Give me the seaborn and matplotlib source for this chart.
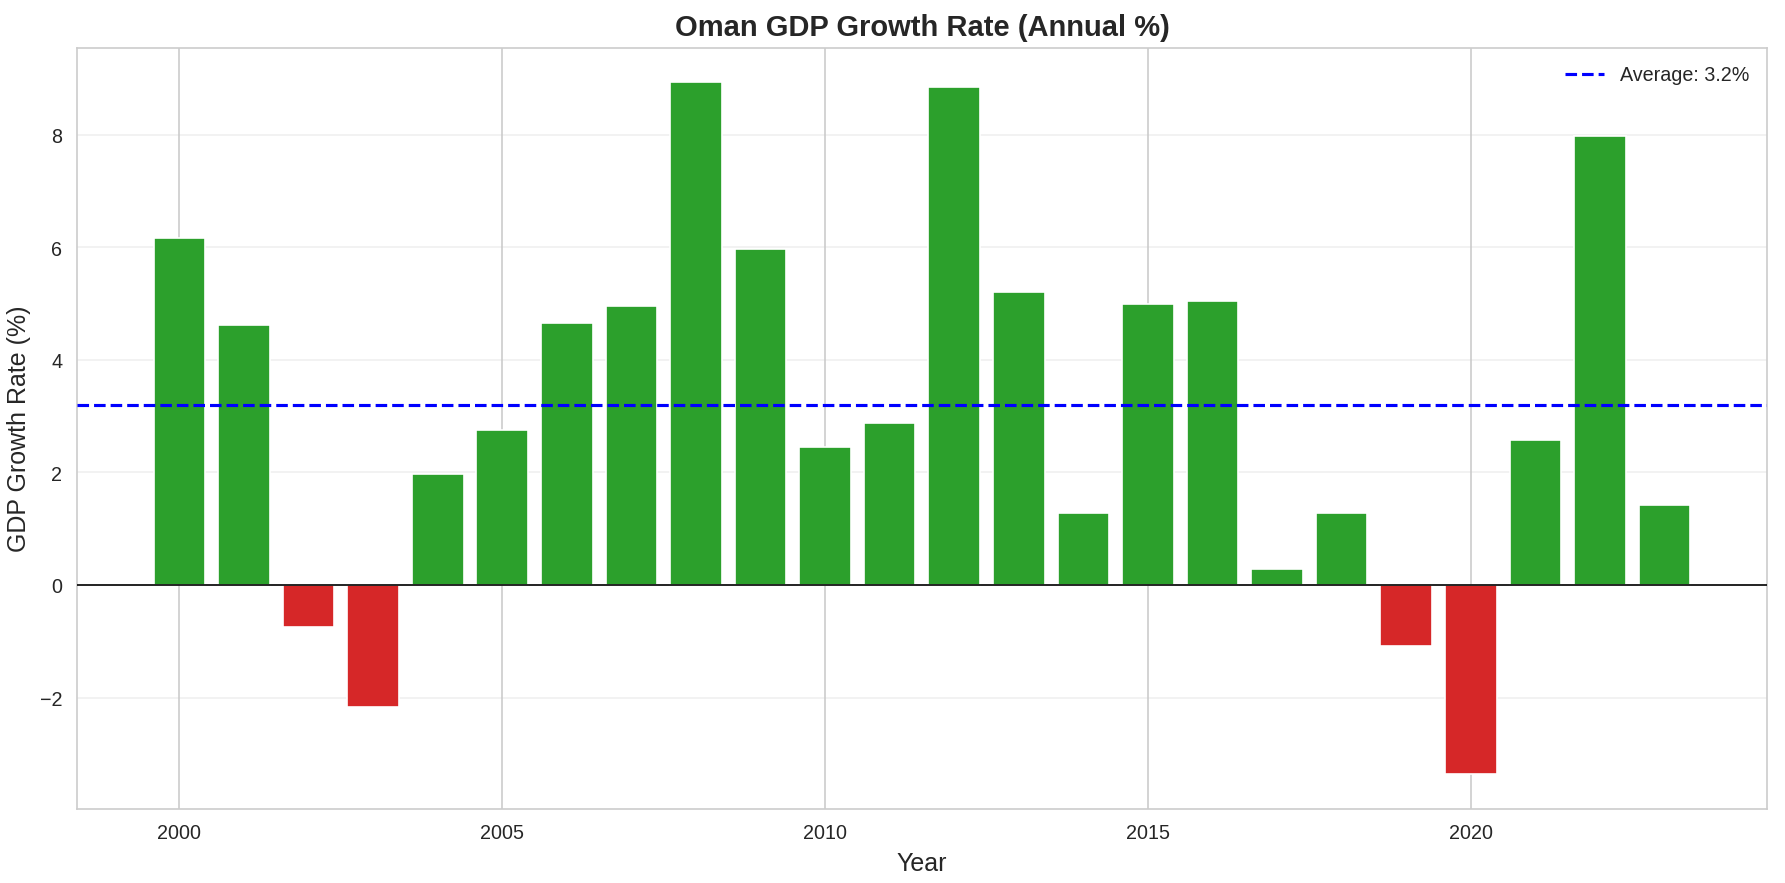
import numpy as np
import pandas as pd
import matplotlib
matplotlib.use('Agg')
import matplotlib.pyplot as plt
import seaborn as sns

# Oman GDP growth, annual %
years = list(range(2000, 2024))
growth = [6.17, 4.62, -0.75, -2.17, 1.98, 2.75, 4.66, 4.96, 8.93, 5.97,
          2.45, 2.87, 8.85, 5.20, 1.28, 5.00, 5.04, 0.28, 1.28, -1.09,
          -3.36, 2.57, 7.98, 1.42]

df = pd.DataFrame({'Year': years, 'Growth': growth})
df['Sign'] = np.where(df['Growth'] >= 0, 'pos', 'neg')
avg = df['Growth'].mean()

sns.set_style('whitegrid')
plt.rcParams['font.family'] = ['Liberation Sans', 'DejaVu Sans']

fig, ax = plt.subplots(figsize=(11.9, 5.893), dpi=150)
fig.subplots_adjust(left=0.043, right=0.99, top=0.945, bottom=0.084)

sns.barplot(data=df, x='Year', y='Growth', hue='Sign',
            palette={'pos': '#2ca02c', 'neg': '#d62728'}, saturation=1,
            native_scale=True, dodge=False, legend=False,
            edgecolor='white', linewidth=0.8, ax=ax, zorder=2)

ax.axhline(0, color='black', linewidth=0.8, zorder=3)
ax.axhline(avg, color='blue', linestyle='--', linewidth=1.5,
           label=f'Average: {avg:.1f}%', zorder=4)

ax.grid(axis='y', alpha=0.3)
ax.set_axisbelow(True)
ax.set_title('Oman GDP Growth Rate (Annual %)', fontsize=14, fontweight='bold')
ax.set_xlabel('Year', fontsize=12)
ax.set_ylabel('GDP Growth Rate (%)', fontsize=12)
ax.set_xticks([2000, 2005, 2010, 2015, 2020])
ax.tick_params(labelsize=9.5)
ax.legend(loc='upper right', fontsize=9.5, frameon=False)

fig.savefig('out.png', dpi=150)
